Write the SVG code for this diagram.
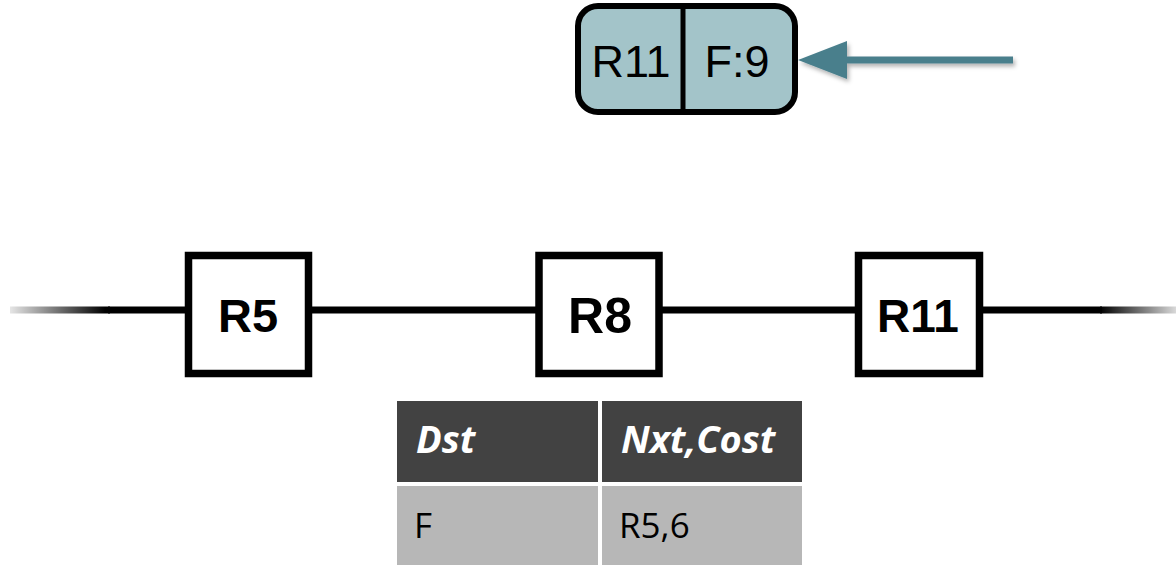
<svg xmlns="http://www.w3.org/2000/svg" width="1176" height="565" viewBox="0 0 1176 565">
<defs>
<style>
.box{fill:#ffffff;stroke:#000000;stroke-width:7.5;}
.lbl{font-family:"Liberation Sans",Arial,sans-serif;font-weight:bold;fill:#000;text-anchor:middle;}
.ttxt{font-family:"Liberation Sans",Arial,sans-serif;font-size:45px;fill:#000;text-anchor:middle;}
.hdr{font-family:"Open Sans",sans-serif;font-weight:bold;font-style:italic;font-size:38px;fill:#fff;}
.cell{font-family:"Open Sans",sans-serif;font-size:35px;fill:#000;}
</style>
<linearGradient id="fadeL" x1="10" y1="0" x2="105" y2="0" gradientUnits="userSpaceOnUse">
<stop offset="0" stop-color="#000" stop-opacity="0.1"/>
<stop offset="1" stop-color="#000" stop-opacity="1"/>
</linearGradient>
<linearGradient id="fadeR" x1="1100" y1="0" x2="1176" y2="0" gradientUnits="userSpaceOnUse">
<stop offset="0" stop-color="#000" stop-opacity="1"/>
<stop offset="1" stop-color="#000" stop-opacity="0.15"/>
</linearGradient>
<filter id="sh" x="-10%" y="-50%" width="130%" height="250%">
<feDropShadow dx="2" dy="3" stdDeviation="2" flood-color="#000" flood-opacity="0.3"/>
</filter>
</defs>

<g id="connectors">
<rect x="10" y="306.5" width="100" height="7" fill="url(#fadeL)"/>
<line x1="108" y1="310" x2="1102" y2="310" stroke="#000" stroke-width="7"/>
<rect x="1100" y="306.5" width="76" height="7" fill="url(#fadeR)"/>
<g id="arrow" filter="url(#sh)">
<line x1="1013" y1="60" x2="840" y2="60" stroke="#4a7f8c" stroke-width="7"/>
<polygon points="798,60 847,41 847,79" fill="#4a7f8c"/>
</g>
</g>

<g id="msg">
<rect x="578" y="6" width="217" height="106" rx="20" ry="20" fill="#a3c4c9" stroke="#000" stroke-width="6"/>
<line x1="683" y1="6" x2="683" y2="112" stroke="#000" stroke-width="5"/>
<text class="ttxt" x="631" y="77">R11</text>
<text class="ttxt" x="737" y="77">F:9</text>
</g>

<g id="R5">
<rect class="box" x="188.5" y="255.5" width="120" height="118"/>
<text class="lbl" x="248" y="332" font-size="47">R5</text>
</g>
<g id="R8">
<rect class="box" x="539" y="255.5" width="120" height="118"/>
<text class="lbl" x="600" y="333" font-size="50">R8</text>
</g>
<g id="R11">
<rect class="box" x="858.5" y="255.5" width="121" height="118"/>
<text class="lbl" x="918" y="332" font-size="46">R11</text>
</g>

<g id="table">
<rect x="397" y="401" width="201" height="81" fill="#424242"/>
<rect x="602" y="401" width="200" height="81" fill="#424242"/>
<rect x="397" y="486" width="201" height="79" fill="#b7b7b7"/>
<rect x="602" y="486" width="200" height="79" fill="#b7b7b7"/>
<text class="hdr" x="416" y="453">Dst</text>
<text class="hdr" x="621" y="453">Nxt,Cost</text>
<text class="cell" x="414" y="538">F</text>
<text class="cell" x="619" y="538">R5,6</text>
</g>
</svg>
